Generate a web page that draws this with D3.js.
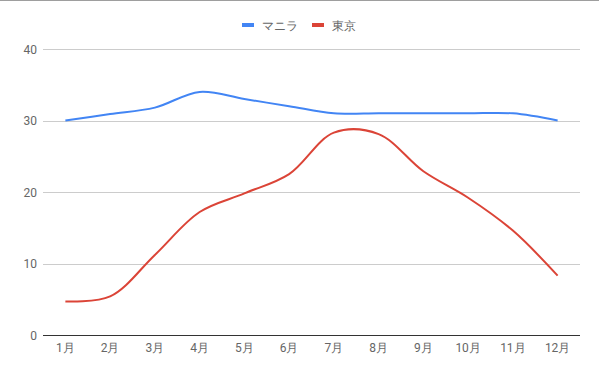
<!DOCTYPE html>
<html>
<head>
<meta charset="utf-8">
<script src="https://cdn.jsdelivr.net/npm/d3@7"></script>
<style>
  body { margin: 0; background: #fff; }
  text { font-family: Roboto, Arial, sans-serif; }
</style>
</head>
<body>
<div id="container"></div>
<script>
// data
const months = ["1月", "2月", "3月", "4月", "5月", "6月", "7月", "8月", "9月", "10月", "11月", "12月"];
const manila = [30, 30.9, 31.8, 34, 33, 32, 31, 31, 31, 31, 31, 30];
const tokyo = [4.7, 5.4, 11.2, 17.2, 19.8, 22.5, 28.3, 28.1, 22.9, 19.2, 14.6, 8.3];
const seriesNames = ["マニラ", "東京"];
const seriesColors = ["#4285f4", "#db4437"];
const yTicks = [0, 10, 20, 30, 40];

const width = 599, height = 368;
const plotLeft = 43, plotRight = 580, plotTop = 49, plotBottom = 335;

let viz = d3.select("#container")
  .append("svg")
    .attr("width", width)
    .attr("height", height)
;

// top border
viz.append("line")
    .attr("x1", 0).attr("x2", width)
    .attr("y1", 0.5).attr("y2", 0.5)
    .attr("stroke", "#9e9e9e")
;

const x = d3.scaleBand()
    .domain(months)
    .range([plotLeft, plotRight]);

const y = d3.scaleLinear()
    .domain([0, 40])
    .range([plotBottom, plotTop]);

// gridlines
viz.append("g")
  .selectAll("line")
  .data(yTicks.filter(d => d > 0))
  .join("line")
    .attr("x1", plotLeft).attr("x2", plotRight)
    .attr("y1", d => Math.round(y(d)) + 0.5)
    .attr("y2", d => Math.round(y(d)) + 0.5)
    .attr("stroke", "#cccccc")
;

// y labels
viz.append("g")
  .selectAll("text")
  .data(yTicks)
  .join("text")
    .attr("x", 37)
    .attr("y", d => y(d) + 4.5)
    .attr("text-anchor", "end")
    .attr("font-size", 12)
    .attr("fill", "#666")
    .text(d => d)
;

// x labels
viz.append("g")
  .selectAll("text")
  .data(months)
  .join("text")
    .attr("x", d => x(d) + x.bandwidth() / 2)
    .attr("y", 352)
    .attr("text-anchor", "middle")
    .attr("font-size", 12)
    .attr("fill", "#666")
    .text(d => d)
;

// lines
const line = d3.line()
    .x((d, i) => x(months[i]) + x.bandwidth() / 2)
    .y(d => y(d))
    .curve(d3.curveCatmullRom.alpha(0.5));

[manila, tokyo].forEach((s, i) => {
  viz.append("path")
      .attr("d", line(s))
      .attr("fill", "none")
      .attr("stroke", seriesColors[i])
      .attr("stroke-width", 2)
  ;
});

// baseline
viz.append("line")
    .attr("x1", plotLeft).attr("x2", plotRight)
    .attr("y1", plotBottom + 0.5).attr("y2", plotBottom + 0.5)
    .attr("stroke", "#333")
;

// legend
const legendX = [242, 312];
seriesNames.forEach((n, i) => {
  viz.append("rect")
      .attr("x", legendX[i])
      .attr("y", 23)
      .attr("width", 12)
      .attr("height", 4)
      .attr("fill", seriesColors[i])
  ;
  viz.append("text")
      .attr("x", legendX[i] + 20)
      .attr("y", 29.5)
      .attr("font-size", 12)
      .attr("fill", "#666")
      .text(n)
  ;
});
</script>
</body>
</html>
